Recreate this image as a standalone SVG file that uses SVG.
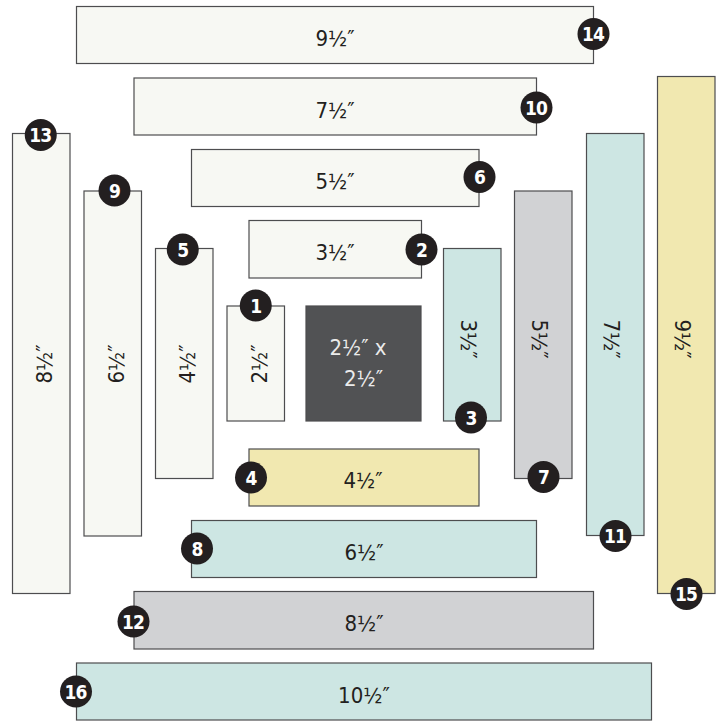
<svg xmlns="http://www.w3.org/2000/svg" width="722" height="721" viewBox="0 0 722 721">
<style>
  .s { stroke: #4d4d4f; stroke-width: 1.2; }
  .w { fill: #f7f8f3; }
  .t { fill: #cde6e3; }
  .y { fill: #f1e8b0; }
  .g { fill: #d1d2d4; }
  .d { fill: #515254; }
  .lbl { font-family: "Liberation Sans Narrow", "DejaVu Sans Condensed", "Liberation Sans", sans-serif; font-size: 22px; fill: #231f20; text-anchor: middle; }
  .clbl { font-family: "Liberation Sans Narrow", "DejaVu Sans Condensed", "Liberation Sans", sans-serif; font-size: 22px; fill: #ebebeb; text-anchor: middle; }
  .bc { fill: #231f20; }
  .bt { font-family: "Liberation Sans Narrow", "DejaVu Sans Condensed", "Liberation Sans", sans-serif; font-size: 19px; font-weight: bold; fill: #ffffff; text-anchor: middle; letter-spacing: -1px; }
</style>
<rect width="722" height="721" fill="#ffffff"/>

<g id="center">
  <rect class="s d" x="306" y="306" width="115" height="115"/>
  <text class="clbl" x="358" y="355">2½″ x</text>
  <text class="clbl" x="363.5" y="386">2½″</text>
</g>

<g id="strip1">
  <rect class="s w" x="227" y="306" width="57.5" height="115"/>
  <text class="lbl" transform="rotate(-90 255.75 364)" x="255.75" y="375">2½″</text>
  <circle class="bc" cx="255.75" cy="305.5" r="16"/>
  <text class="bt" x="255.75" y="312.5">1</text>
</g>

<g id="strip2">
  <rect class="s w" x="249" y="220.5" width="172.5" height="57.5"/>
  <text class="lbl" x="335" y="260">3½″</text>
  <circle class="bc" cx="421.5" cy="249.5" r="16"/>
  <text class="bt" x="421.5" y="256.5">2</text>
</g>

<g id="strip3">
  <rect class="s t" x="443.5" y="248.5" width="57.5" height="172.5"/>
  <text class="lbl" transform="rotate(90 472.25 339)" x="472.25" y="350">3½″</text>
  <circle class="bc" cx="471" cy="417.5" r="16"/>
  <text class="bt" x="471" y="424.5">3</text>
</g>

<g id="strip4">
  <rect class="s y" x="249" y="449" width="230" height="57"/>
  <text class="lbl" x="363" y="488">4½″</text>
  <circle class="bc" cx="251" cy="477.5" r="16"/>
  <text class="bt" x="251" y="484.5">4</text>
</g>

<g id="strip5">
  <rect class="s w" x="155.5" y="248.5" width="57.5" height="230"/>
  <text class="lbl" transform="rotate(-90 184.25 364)" x="184.25" y="375">4½″</text>
  <circle class="bc" cx="182.75" cy="249.5" r="16"/>
  <text class="bt" x="182.75" y="256.5">5</text>
</g>

<g id="strip6">
  <rect class="s w" x="191.5" y="149.5" width="287.5" height="57"/>
  <text class="lbl" x="335" y="189">5½″</text>
  <circle class="bc" cx="479.5" cy="177" r="16"/>
  <text class="bt" x="479.5" y="184">6</text>
</g>

<g id="strip7">
  <rect class="s g" x="514.5" y="191" width="57.5" height="287.5"/>
  <text class="lbl" transform="rotate(90 543.25 339)" x="543.25" y="350">5½″</text>
  <circle class="bc" cx="543.5" cy="477" r="16"/>
  <text class="bt" x="543.5" y="484">7</text>
</g>

<g id="strip8">
  <rect class="s t" x="191.5" y="520.5" width="345" height="57"/>
  <text class="lbl" x="364" y="560">6½″</text>
  <circle class="bc" cx="197" cy="548.5" r="16"/>
  <text class="bt" x="197" y="555.5">8</text>
</g>

<g id="strip9">
  <rect class="s w" x="84" y="191" width="57.5" height="345"/>
  <text class="lbl" transform="rotate(-90 112.75 364)" x="112.75" y="375">6½″</text>
  <circle class="bc" cx="114.5" cy="190.5" r="16"/>
  <text class="bt" x="114.5" y="197.5">9</text>
</g>

<g id="strip10">
  <rect class="s w" x="134" y="78" width="402.5" height="57"/>
  <text class="lbl" x="335" y="117.5">7½″</text>
  <circle class="bc" cx="536.5" cy="107.5" r="16"/>
  <text class="bt" x="536" y="114.5">10</text>
</g>

<g id="strip11">
  <rect class="s t" x="586.5" y="133.5" width="57.5" height="402"/>
  <text class="lbl" transform="rotate(90 615.25 339)" x="615.25" y="350">7½″</text>
  <circle class="bc" cx="615.5" cy="536" r="16"/>
  <text class="bt" x="615" y="543">11</text>
</g>

<g id="strip12">
  <rect class="s g" x="134" y="591.5" width="459.5" height="57.5"/>
  <text class="lbl" x="364" y="631">8½″</text>
  <circle class="bc" cx="133.5" cy="621.5" r="16"/>
  <text class="bt" x="133" y="628.5">12</text>
</g>

<g id="strip13">
  <rect class="s w" x="12.5" y="133.5" width="57.5" height="460"/>
  <text class="lbl" transform="rotate(-90 41.25 364)" x="41.25" y="375">8½″</text>
  <circle class="bc" cx="40.75" cy="135" r="16"/>
  <text class="bt" x="40.25" y="142">13</text>
</g>

<g id="strip14">
  <rect class="s w" x="76.5" y="6.5" width="517" height="57"/>
  <text class="lbl" x="335" y="45.5">9½″</text>
  <circle class="bc" cx="593.5" cy="34" r="16"/>
  <text class="bt" x="593" y="41">14</text>
</g>

<g id="strip15">
  <rect class="s y" x="657.5" y="76.5" width="57.5" height="517"/>
  <text class="lbl" transform="rotate(90 686.25 339)" x="686.25" y="350">9½″</text>
  <circle class="bc" cx="686.5" cy="594" r="16"/>
  <text class="bt" x="686" y="601">15</text>
</g>

<g id="strip16">
  <rect class="s t" x="76.5" y="663" width="575" height="57"/>
  <text class="lbl" x="364" y="702.5">10½″</text>
  <circle class="bc" cx="76" cy="691.5" r="16"/>
  <text class="bt" x="75.5" y="698.5">16</text>
</g>

<g id="connectors"></g>
</svg>
